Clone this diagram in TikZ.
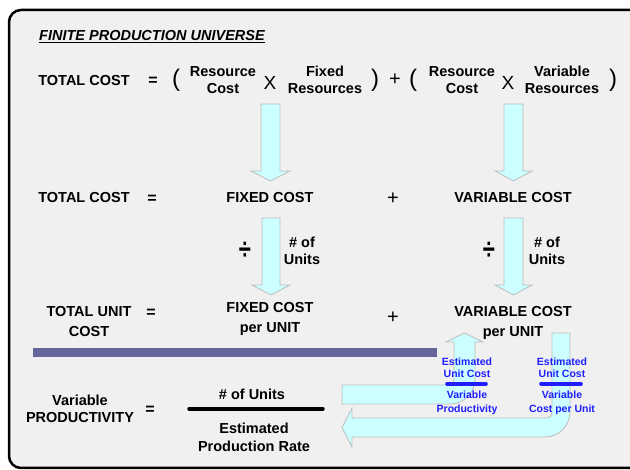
\documentclass[tikz,border=0pt]{standalone}
\usepackage{fontspec}
\setmainfont{Liberation Sans}
\definecolor{bgray}{HTML}{F0F0F0}
\definecolor{acyan}{HTML}{CCFFFF}
\definecolor{aedge}{HTML}{BDBDBD}
\definecolor{barpurple}{HTML}{67669A}
\definecolor{tblue}{HTML}{1E1EFF}
\tikzset{
  lbl/.style={font=\fontsize{14.5}{16.5}\selectfont\bfseries, align=center, inner sep=0pt},
  lblw/.style={font=\fontsize{14.5}{20}\selectfont\bfseries, align=center, inner sep=0pt},
  sym/.style={font=\fontsize{17}{18}\selectfont, inner sep=0pt},
  eqsign/.style={font=\fontsize{16}{18}\selectfont\bfseries, inner sep=0pt},
  divsign/.style={font=\fontsize{22}{24}\selectfont\bfseries, inner sep=0pt, yscale=1.35},
  paren/.style={font=\fontsize{24}{26}\selectfont, inner sep=0pt},
  bl/.style={font=\fontsize{10.5}{12.3}\selectfont\bfseries, text=tblue, align=center, inner sep=0pt},
  blockarrow/.style={fill=acyan, draw=aedge, line width=0.8pt, line join=miter},
  bluebar/.style={draw=tblue, line width=3.6pt, line cap=round},
  fracline/.style={draw=black, line width=3.4pt, line cap=round}
}
\begin{document}
\begin{tikzpicture}[x=1pt,y=-1pt]
\clip (0,0) rectangle (630,470);
\fill[white] (0,0) rectangle (630,470);
% frame
\draw[line width=2.5pt, fill=bgray, rounded corners=12pt] (9,10) rectangle (660,468);

% title
\node[anchor=west, inner sep=0pt, font=\fontsize{14.5}{16}\selectfont\bfseries\itshape] (title) at (39,37) {\underline{FINITE PRODUCTION UNIVERSE}};

% row 1
\node[lbl] (tc1) at (84,81) {TOTAL COST};
\node[eqsign] (eq1) at (153,81) {=};
\node[paren] (lp1) at (176,80) {(};
\node[lbl] (rc1) at (223,80) {Resource\\Cost};
\node[sym, font=\fontsize{19}{20}\selectfont] (x1) at (270,83) {X};
\node[lbl] (fr) at (325,80) {Fixed\\Resources};
\node[paren] (rp1) at (375,80) {)};
\node[sym, font=\fontsize{20}{20}\selectfont] (pl1) at (395,80) {+};
\node[paren] (lp2) at (413,80) {(};
\node[lbl] (rc2) at (462,80) {Resource\\Cost};
\node[sym, font=\fontsize{19}{20}\selectfont] (x2) at (508,83) {X};
\node[lbl] (vr) at (562,80) {Variable\\Resources};
\node[paren] (rp2) at (613,80) {)};

% row 2
\node[lbl] (tc2) at (84,198) {TOTAL COST};
\node[eqsign] (eq2) at (152,199) {=};
\node[lbl] (fc) at (270,198) {FIXED COST};
\node[sym, font=\fontsize{20}{20}\selectfont] (pl2) at (393,199) {+};
\node[lbl] (vc) at (513,198) {VARIABLE COST};

% down arrows
\draw[blockarrow] (261,104) -- (280,104) -- (280,171) -- (290,171) -- (270.5,181) -- (251,171) -- (261,171) -- cycle;
\draw[blockarrow] (504,104) -- (523,104) -- (523,171) -- (532,171) -- (513.5,181) -- (495,171) -- (504,171) -- cycle;
\draw[blockarrow] (262,218) -- (280,218) -- (280,285) -- (290,285) -- (271,295) -- (252,285) -- (262,285) -- cycle;
\draw[blockarrow] (504,218) -- (523,218) -- (523,285) -- (532,285) -- (513.5,295) -- (495,285) -- (504,285) -- cycle;

% divide signs and # of Units
\node[divsign] (div1) at (245,251) {÷};
\node[lbl] (nu1) at (302,251) {\# of\\Units};
\node[divsign] (div2) at (489,251) {÷};
\node[lbl] (nu2) at (547,251) {\# of\\Units};

% row 3
\node[lblw] (tuc) at (89,322) {TOTAL UNIT\\COST};
\node[eqsign] (eq3) at (151,313) {=};
\node[lblw] (fcu) at (270,319) {FIXED COST\\per UNIT};
\node[sym, font=\fontsize{20}{20}\selectfont] (pl3) at (393,318) {+};

% purple bar
\fill[barpurple] (33,348) rectangle (437,357);

% U arrows
\draw[blockarrow] (342,385) -- (449,385) .. controls (451.8,385) and (454,382.8) .. (454,380) -- (454,342) -- (446,342) -- (464.5,333) -- (483,342) -- (475,342) -- (475,379) .. controls (475,392.8) and (463.8,404) .. (450,404) -- (342,404) -- cycle;
\draw[blockarrow] (552,333) -- (570,333) -- (570,412) .. controls (570,425.8) and (558.8,437) .. (545,437) -- (352,437) -- (352,447) -- (342,427.5) -- (352,408) -- (352,418) -- (547,418) .. controls (549.8,418) and (552,415.8) .. (552,413) -- cycle;

\node[lblw] (vcu) at (513,323) {VARIABLE COST\\per UNIT};

% blue labels
\node[bl] (euc1) at (467,368) {Estimated\\Unit Cost};
\draw[bluebar] (447,384) -- (486,384);
\node[bl, font=\fontsize{10.5}{13.5}\selectfont\bfseries] (vp) at (467,403) {Variable\\Productivity};
\node[bl] (euc2) at (562,368) {Estimated\\Unit Cost};
\draw[bluebar] (541,384) -- (581,384);
\node[bl, font=\fontsize{10.5}{13.5}\selectfont\bfseries] (vcpu) at (562,403) {Variable\\Cost per Unit};

% row 4
\node[lbl, font=\fontsize{14.5}{17}\selectfont\bfseries] (vprod) at (80,409) {Variable\\PRODUCTIVITY};
\node[eqsign] (eq4) at (150,410) {=};
\node[lbl] (nun) at (252,394) {\# of Units};
\coordinate (fl) at (189,409);
\coordinate (fr2) at (323,409);
\draw[fracline] (fl) -- (fr2);
\node[lbl, font=\fontsize{14.5}{18}\selectfont\bfseries] (epr) at (254,437) {Estimated\\Production Rate};
\end{tikzpicture}
\end{document}
